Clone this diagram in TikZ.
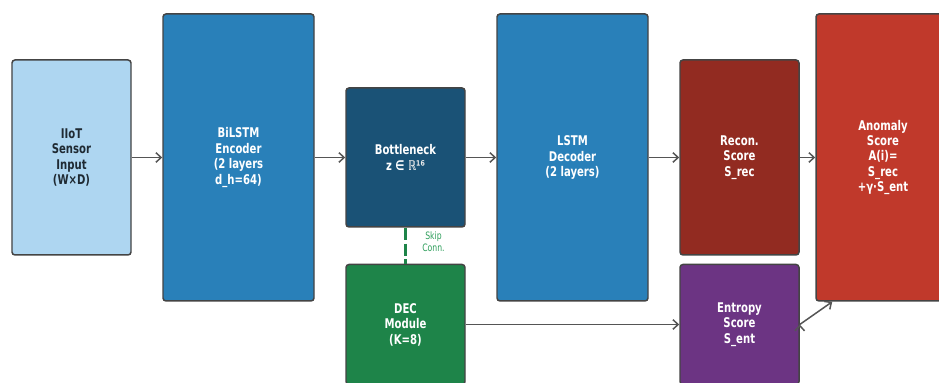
\documentclass[tikz,border=0pt]{standalone}
\usepackage{fontspec}
\setmainfont{DejaVu Sans Condensed}[FakeStretch=0.84]
\usetikzlibrary{positioning, arrows.meta}

\definecolor{boxline}{HTML}{444444}
\definecolor{flowline}{HTML}{555555}
\definecolor{inputblue}{HTML}{AED6F1}
\definecolor{inputtext}{HTML}{1F2A33}
\definecolor{lstmblue}{HTML}{2980B9}
\definecolor{bottleblue}{HTML}{1A5276}
\definecolor{decgreen}{HTML}{1E8449}
\definecolor{skipgreen}{HTML}{2E9E5B}
\definecolor{recred}{HTML}{922B21}
\definecolor{entpurple}{HTML}{6C3483}
\definecolor{anomred}{HTML}{C0392B}

\begin{document}
\begin{tikzpicture}
	[on grid, node distance=3.34cm,
	 block/.style={draw=boxline, line width=0.85pt, rounded corners=1.7pt, align=center,
	   font=\fontsize{7.6}{8.8}\selectfont\bfseries, text=white},
	 small/.style={block, minimum width=2.38cm},
	 tall/.style={block, minimum width=3.02cm, minimum height=5.74cm},
	 flow/.style={->, draw=flowline, line width=0.85pt},
	 skipline/.style={draw=decgreen, line width=1.2pt, dash pattern=on 7pt off 2pt},
	 >={Straight Barb[length=3pt,width=5.5pt]}]
   \useasboundingbox (0,0) rectangle (18.78,-7.66);
   % main chain
   \node[small, fill=inputblue, text=inputtext, minimum height=3.9cm] (input) at (1.43,-3.15) {IIoT\\Sensor\\Input\\(W×D)};
   \node[tall, fill=lstmblue] (encoder) [right=of input] {BiLSTM\\Encoder\\(2 layers\\d\_h=64)};
   \node[small, fill=bottleblue, minimum height=2.78cm] (bottleneck) [right=of encoder] {Bottleneck\\z ∈ {\color{white!85!gray}ℝ¹⁶}};
   \node[tall, fill=lstmblue] (decoder) [right=of bottleneck] {LSTM\\Decoder\\(2 layers)};
   \node[small, fill=recred, minimum height=3.9cm] (recon) [right=of decoder] {Recon.\\Score\\S\_rec};
   \node[block, fill=anomred, minimum width=2.68cm, minimum height=5.74cm] (anomaly) [right=2.87cm of recon] {Anomaly\\Score\\A(i)=\\S\_rec\\+γ·S\_ent};
   % lower row
   \node[small, fill=decgreen, minimum height=2.4cm] (dec) [below=of bottleneck] {DEC\\Module\\(K=8)};
   \node[small, fill=entpurple, minimum height=2.4cm] (entropy) [below=of recon] {Entropy\\Score\\S\_ent};
    \path[flow]
    (input) edge (encoder)
    (encoder) edge (bottleneck)
    (bottleneck) edge (decoder)
    (decoder) edge (recon)
    (recon) edge (anomaly)
    (dec) edge (entropy)
    (entropy.east) edge ([xshift=0.34cm]anomaly.south west);
   \path (bottleneck.south) edge[skipline] (dec.north);
   \node[align=center, text=skipgreen, font=\fontsize{5.8}{6.8}\selectfont]
     (skiplabel) at ([xshift=0.56cm, yshift=-0.28cm]bottleneck.south) {Skip\\Conn.};

\end{tikzpicture}
\end{document}
